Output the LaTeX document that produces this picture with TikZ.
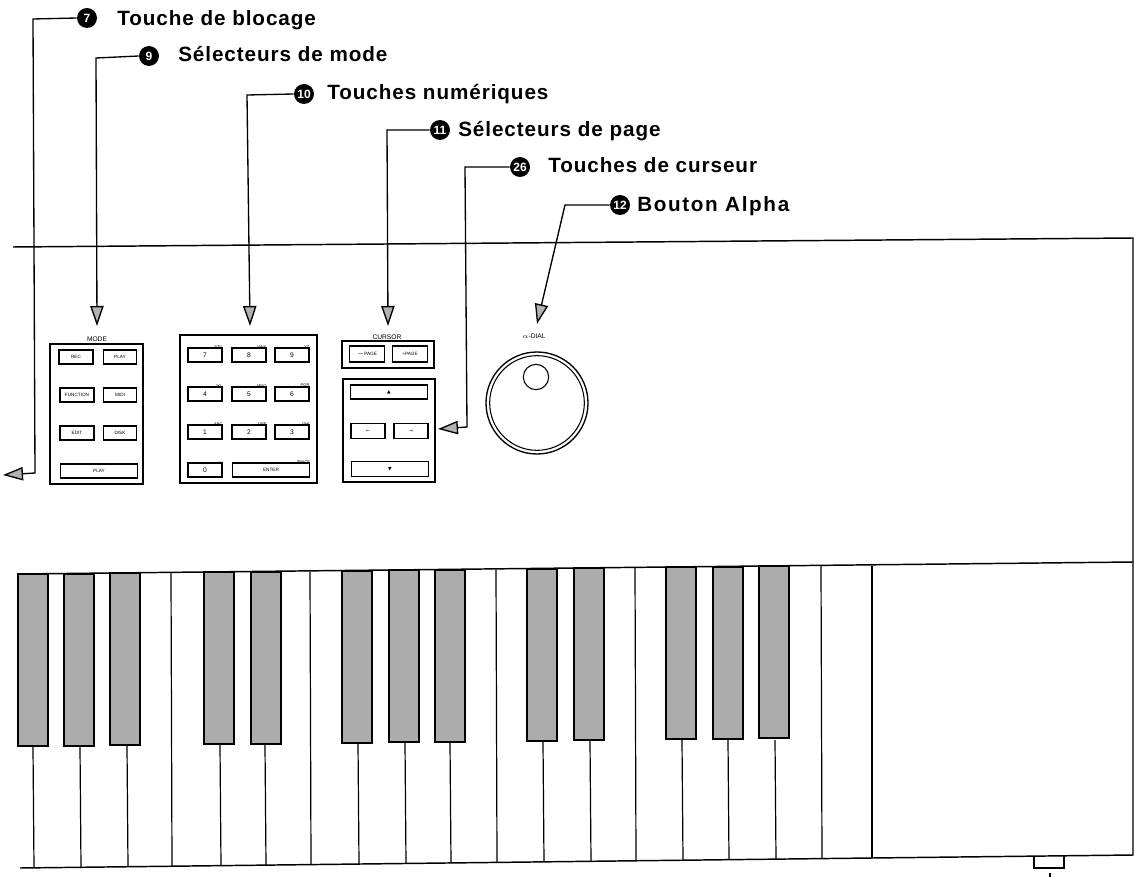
\documentclass[tikz,border=0pt]{standalone}
\usepackage{fontspec}
\setmainfont{Liberation Sans}
\newfontfamily\symfont{DejaVu Sans}
\usetikzlibrary{arrows.meta}
\begin{document}
\begin{tikzpicture}[
  x=0.75pt, y=-0.75pt,
  caption/.style={anchor=base west, inner sep=0pt, font=\bfseries\fontsize{15.5}{17}\selectfont\addfontfeature{LetterSpace=4.5}},
  badge/.style={circle, fill=black, text=white, inner sep=0pt, minimum size=15pt, font=\bfseries\fontsize{9}{9}\selectfont},
  lead/.style={line width=1pt, -{Triangle[open, fill=gray!60, length=15pt, width=10pt, line width=1pt]}},
  panel/.style={draw, line width=1pt},
  keycap/.style={draw, line width=1pt, anchor=center, inner sep=0pt, font=\fontsize{3.5}{4}\selectfont},
  tiny/.style={inner sep=0pt, font=\fontsize{3}{3}\selectfont},
  head/.style={inner sep=0pt, font=\fontsize{5}{5}\selectfont},
  blackkey/.style={draw, fill=gray!65, line width=1.4pt},
  edge/.style={line width=1.1pt}
]
\useasboundingbox (0,0) rectangle (1135,877);
% callouts
\node[badge] (n7) at (87,18) {7};
\node[caption] (t7) at (117,26) {Touche de blocage};
\node[badge] (n9) at (149,56) {9};
\node[caption] (t9) at (178,62) {Sélecteurs de mode};
\node[badge] (n10) at (304,94) {10};
\node[caption] (t10) at (327,100) {Touches numériques};
\node[badge] (n11) at (440,130) {11};
\node[caption] (t11) at (458,137) {Sélecteurs de page};
\node[badge] (n26) at (520,167) {26};
\node[caption] (t26) at (548,173) {Touches de curseur};
\node[badge] (n12) at (620,205) {12};
\node[caption, font=\bfseries\fontsize{15.5}{17}\selectfont\addfontfeature{LetterSpace=8}] (t12) at (637,212) {Bouton Alpha};
% case
\draw[edge] (13,247) -- (1133,238) -- (1133,855) -- (872,858) -- (20,868);
\draw[edge] (18,574) -- (1133,562);
\draw[line width=1.4pt] (872,566) -- (872,858);
\draw[edge] (1034,856) -- (1034,868) -- (1064,868) -- (1064,855);
\draw[edge] (1050,873) -- (1050,877);
% white keys
\foreach \kx/\ky in {33/747,80/747,127/746,220/745,265/745,358/743,405/743,450/743,543/742,590/741,682/740,728/740,775/740}
  \draw[line width=0.9pt] (\kx,\ky) -- (\kx+1,{868-(\kx-20)*0.01174});
\foreach \kx/\ky in {171/573,310/572,496/570,635/568,821/566}
  \draw[line width=0.9pt] (\kx,\ky) -- (\kx+1,{868-(\kx-20)*0.01174});
% black keys
\foreach \kx/\ky in {18/574,64/574,110/573,204/572,251/572,342/571,389/570,435/570,527/569,574/568,666/567,713/567,759/566}
  \draw[blackkey] (\kx,\ky) rectangle (\kx+30,\ky+172);
% mode panel
\node[head] (lmode) at (97,339) {MODE};
\draw[panel] (50,344) rectangle (143,484);
\node[keycap, minimum width=25.5pt, minimum height=10.5pt] (brec) at (76,357) {REC};
\node[keycap, minimum width=25pt, minimum height=10.5pt] (bplay) at (120,357) {PLAY};
\node[keycap, minimum width=25.5pt, minimum height=10.5pt] (bfunc) at (77,395) {FUNCTION};
\node[keycap, minimum width=25pt, minimum height=10.5pt] (bmidi) at (120,395) {MIDI};
\node[keycap, minimum width=25.5pt, minimum height=10.5pt] (bedit) at (77,433) {EDIT};
\node[keycap, minimum width=25pt, minimum height=10.5pt] (bdisk) at (120,433) {DISK};
\node[keycap, minimum width=58pt, minimum height=10.5pt] (bplaw) at (99,471) {PLAY};
% number panel
\draw[panel] (180,335) rectangle (317,483);
\foreach \knum/\kx/\ky/\ktop in {7/205/355/STU,8/249/355/VWX,9/292/355/YZ,4/205/394/JKL,5/249/394/MNO,6/292/394/PQR,1/205/432/ABC,2/249/432/DEF,3/292/432/GHI,0/205/470/---}{
  \node[keycap, minimum width=25.5pt, minimum height=10.5pt] (k\knum) at (\kx,\ky) {\fontsize{5}{5}\selectfont\knum};
  \node[tiny, anchor=south east] (u\knum) at ([yshift=-1pt]k\knum.north east) {\ktop};
}
\node[keycap, minimum width=58pt, minimum height=10.5pt] (kent) at (271,470) {ENTER};
\node[tiny, anchor=south east] (uent) at ([yshift=-1pt]kent.north east) {SPACE};
% cursor panels
\node[head] (lcur) at (387,337) {CURSOR};
\draw[panel] (342,341) rectangle (434,368);
\node[keycap, minimum width=26pt, minimum height=12pt] (bpl) at (367,354) {$-$PAGE};
\node[keycap, minimum width=26pt, minimum height=12pt] (bpr) at (410,354) {+PAGE};
\draw[panel] (343,379) rectangle (435,482);
\node[keycap, minimum width=58pt, minimum height=10.5pt] (bup) at (389,392) {\symfont ▲};
\node[keycap, minimum width=25.5pt, minimum height=11pt] (blf) at (368,431) {\symfont ←};
\node[keycap, minimum width=25.5pt, minimum height=11pt] (brt) at (411,431) {\symfont →};
\node[keycap, minimum width=58pt, minimum height=11pt] (bdn) at (390,469) {\symfont ▼};
% dial
\node[head] (ldial) at (534,336) {$\alpha$-DIAL};
\node[draw, circle, line width=1pt, minimum size=76.5pt, inner sep=0pt] (dial) at (537,403) {};
\node[draw, circle, line width=0.8pt, minimum size=71pt, inner sep=0pt] (dialin) at (537,403) {};
\node[draw, circle, line width=0.8pt, minimum size=19pt, inner sep=0pt] (knob) at (536,377) {};
% arrows
\coordinate (a7) at (3,475);
\coordinate (a9) at (97,326);
\coordinate (a10) at (250,326);
\coordinate (a11) at (388,326);
\coordinate (a26) at (438,429);
\coordinate (a12) at (537,324);
\draw[lead] (n7.west) -- (33,19) -- (35,473) -- (a7);
\draw[lead] (n9.west) -- (96,58) -- (a9);
\draw[lead] (n10.west) -- (247,95) -- (a10);
\draw[lead] (n11.west) -- (387,130) -- (a11);
\draw[lead] (n26.west) -- (465,167) -- (467,427) -- (a26);
\draw[lead] (n12.west) -- (565,205) -- (a12);
\end{tikzpicture}
\end{document}
